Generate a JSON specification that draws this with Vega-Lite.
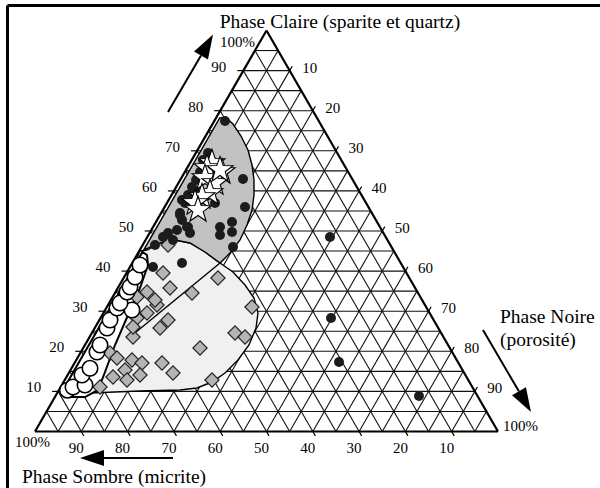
{
"$schema": "https://vega.github.io/schema/vega-lite/v6.json",
"width": 592, "height": 482,
"autosize": {"type": "none"},
"padding": {"left": 8, "top": 6, "right": 0, "bottom": 0},
"background": "white",
"config": {"view": {"stroke": null}},
"datasets": {
"grid": [
{"x":2.5,"y":5,"x2":97.5,"y2":5},{"x":5,"y":10,"x2":95,"y2":10},{"x":7.5,"y":15,"x2":92.5,"y2":15},{"x":10,"y":20,"x2":90,"y2":20},{"x":12.5,"y":25,"x2":87.5,"y2":25},{"x":15,"y":30,"x2":85,"y2":30},{"x":17.5,"y":35,"x2":82.5,"y2":35},{"x":20,"y":40,"x2":80,"y2":40},{"x":22.5,"y":45,"x2":77.5,"y2":45},{"x":25,"y":50,"x2":75,"y2":50},{"x":27.5,"y":55,"x2":72.5,"y2":55},{"x":30,"y":60,"x2":70,"y2":60},{"x":32.5,"y":65,"x2":67.5,"y2":65},{"x":35,"y":70,"x2":65,"y2":70},{"x":37.5,"y":75,"x2":62.5,"y2":75},{"x":40,"y":80,"x2":60,"y2":80},{"x":42.5,"y":85,"x2":57.5,"y2":85},{"x":45,"y":90,"x2":55,"y2":90},{"x":47.5,"y":95,"x2":52.5,"y2":95},
{"x":5,"y":0,"x2":2.5,"y2":5},{"x":10,"y":0,"x2":5,"y2":10},{"x":15,"y":0,"x2":7.5,"y2":15},{"x":20,"y":0,"x2":10,"y2":20},{"x":25,"y":0,"x2":12.5,"y2":25},{"x":30,"y":0,"x2":15,"y2":30},{"x":35,"y":0,"x2":17.5,"y2":35},{"x":40,"y":0,"x2":20,"y2":40},{"x":45,"y":0,"x2":22.5,"y2":45},{"x":50,"y":0,"x2":25,"y2":50},{"x":55,"y":0,"x2":27.5,"y2":55},{"x":60,"y":0,"x2":30,"y2":60},{"x":65,"y":0,"x2":32.5,"y2":65},{"x":70,"y":0,"x2":35,"y2":70},{"x":75,"y":0,"x2":37.5,"y2":75},{"x":80,"y":0,"x2":40,"y2":80},{"x":85,"y":0,"x2":42.5,"y2":85},{"x":90,"y":0,"x2":45,"y2":90},{"x":95,"y":0,"x2":47.5,"y2":95},
{"x":5,"y":0,"x2":52.5,"y2":95},{"x":10,"y":0,"x2":55,"y2":90},{"x":15,"y":0,"x2":57.5,"y2":85},{"x":20,"y":0,"x2":60,"y2":80},{"x":25,"y":0,"x2":62.5,"y2":75},{"x":30,"y":0,"x2":65,"y2":70},{"x":35,"y":0,"x2":67.5,"y2":65},{"x":40,"y":0,"x2":70,"y2":60},{"x":45,"y":0,"x2":72.5,"y2":55},{"x":50,"y":0,"x2":75,"y2":50},{"x":55,"y":0,"x2":77.5,"y2":45},{"x":60,"y":0,"x2":80,"y2":40},{"x":65,"y":0,"x2":82.5,"y2":35},{"x":70,"y":0,"x2":85,"y2":30},{"x":75,"y":0,"x2":87.5,"y2":25},{"x":80,"y":0,"x2":90,"y2":20},{"x":85,"y":0,"x2":92.5,"y2":15},{"x":90,"y":0,"x2":95,"y2":10},{"x":95,"y":0,"x2":97.5,"y2":5}
],
"outline": [
{"x":0,"y":0,"x2":100,"y2":0},{"x":0,"y":0,"x2":50,"y2":100},{"x":100,"y":0,"x2":50,"y2":100}
],
"frame": [
{"x":-5.94,"y":106.23,"x2":125,"y2":106.23},{"x":-5.94,"y":106.23,"x2":-5.94,"y2":-16}
],
"ticks": [
{"x":3.7,"y":10,"x2":5,"y2":10},{"x":8.7,"y":20,"x2":10,"y2":20},{"x":13.7,"y":30,"x2":15,"y2":30},{"x":18.7,"y":40,"x2":20,"y2":40},{"x":23.7,"y":50,"x2":25,"y2":50},{"x":28.7,"y":60,"x2":30,"y2":60},{"x":33.7,"y":70,"x2":35,"y2":70},{"x":38.7,"y":80,"x2":40,"y2":80},{"x":43.7,"y":90,"x2":45,"y2":90},
{"x":95,"y":10,"x2":95.55,"y2":11.1},{"x":90,"y":20,"x2":90.55,"y2":21.1},{"x":85,"y":30,"x2":85.55,"y2":31.1},{"x":80,"y":40,"x2":80.55,"y2":41.1},{"x":75,"y":50,"x2":75.55,"y2":51.1},{"x":70,"y":60,"x2":70.55,"y2":61.1},{"x":65,"y":70,"x2":65.55,"y2":71.1},{"x":60,"y":80,"x2":60.55,"y2":81.1},{"x":55,"y":90,"x2":55.55,"y2":91.1},
{"x":10,"y":0,"x2":10.55,"y2":-1.1},{"x":20,"y":0,"x2":20.55,"y2":-1.1},{"x":30,"y":0,"x2":30.55,"y2":-1.1},{"x":40,"y":0,"x2":40.55,"y2":-1.1},{"x":50,"y":0,"x2":50.55,"y2":-1.1},{"x":60,"y":0,"x2":60.55,"y2":-1.1},{"x":70,"y":0,"x2":70.55,"y2":-1.1},{"x":80,"y":0,"x2":80.55,"y2":-1.1},{"x":90,"y":0,"x2":90.55,"y2":-1.1}
],
"regions": [
{"r":"L","i":1,"x":39.96,"y":42.02},{"r":"L","i":2,"x":42.76,"y":39.78},{"r":"L","i":3,"x":45.36,"y":36.53},{"r":"L","i":4,"x":47.30,"y":33.29},{"r":"L","i":5,"x":48.16,"y":29.55},{"r":"L","i":6,"x":47.73,"y":25.81},{"r":"L","i":7,"x":46.22,"y":21.57},{"r":"L","i":8,"x":43.84,"y":17.83},{"r":"L","i":9,"x":41.04,"y":14.59},{"r":"L","i":10,"x":38.23,"y":12.34},{"r":"L","i":11,"x":34.99,"y":10.85},{"r":"L","i":12,"x":31.32,"y":10.35},{"r":"L","i":13,"x":22.68,"y":10.10},{"r":"L","i":14,"x":12.0,"y":9.6},{"r":"L","i":15,"x":22.6,"y":45.0},{"r":"L","i":16,"x":24.19,"y":45.26},{"r":"L","i":17,"x":27.00,"y":47.01},{"r":"L","i":18,"x":30.24,"y":47.76},{"r":"L","i":19,"x":33.48,"y":47.01},{"r":"L","i":20,"x":36.72,"y":44.76},
{"r":"G","i":1,"x":39.90,"y":78.20},{"r":"G","i":2,"x":41.25,"y":78.30},{"r":"G","i":3,"x":42.76,"y":76.68},{"r":"G","i":4,"x":44.49,"y":73.69},{"r":"G","i":5,"x":46.00,"y":70.20},{"r":"G","i":6,"x":46.87,"y":66.46},{"r":"G","i":7,"x":47.30,"y":62.72},{"r":"G","i":8,"x":47.30,"y":58.98},{"r":"G","i":9,"x":46.87,"y":55.24},{"r":"G","i":10,"x":45.79,"y":51.50},{"r":"G","i":11,"x":44.28,"y":47.76},{"r":"G","i":12,"x":42.12,"y":44.51},{"r":"G","i":13,"x":39.96,"y":42.02},{"r":"G","i":14,"x":36.72,"y":44.76},{"r":"G","i":15,"x":33.48,"y":47.01},{"r":"G","i":16,"x":30.24,"y":47.76},{"r":"G","i":17,"x":27.00,"y":47.01},{"r":"G","i":18,"x":23.5,"y":45.3},
{"r":"B","i":1,"x":5.8,"y":9.85},{"r":"B","i":2,"x":7.56,"y":8.60},{"r":"B","i":3,"x":10.80,"y":8.60},{"r":"B","i":4,"x":13.61,"y":10.35},{"r":"B","i":5,"x":15.12,"y":14.84},{"r":"B","i":6,"x":17.28,"y":21.57},{"r":"B","i":7,"x":20.09,"y":29.05},{"r":"B","i":8,"x":22.68,"y":35.79},{"r":"B","i":9,"x":24.41,"y":41.52},{"r":"B","i":10,"x":24.19,"y":44.01},{"r":"B","i":11,"x":23.2,"y":44.76}
],
"divider": [{"x":39.96,"y":42.02,"x2":20.52,"y2":23.57}],
"samples": [
{"g":"dot","x":41.04,"y":77.43},{"g":"dot","x":37.37,"y":69.45},{"g":"dot","x":36.29,"y":67.71},{"g":"dot","x":36.93,"y":66.46},{"g":"dot","x":35.64,"y":64.71},{"g":"dot","x":34.77,"y":62.72},{"g":"dot","x":33.91,"y":60.97},{"g":"dot","x":33.05,"y":58.98},{"g":"dot","x":32.40,"y":56.98},{"g":"dot","x":31.32,"y":54.49},{"g":"dot","x":31.75,"y":52.74},{"g":"dot","x":32.83,"y":50.99},{"g":"dot","x":30.67,"y":50.25},{"g":"dot","x":28.73,"y":49.50},{"g":"dot","x":29.81,"y":47.76},{"g":"dot","x":27.65,"y":48.50},{"g":"dot","x":25.92,"y":46.51},{"g":"dot","x":44.92,"y":62.97},{"g":"dot","x":45.36,"y":55.99},{"g":"dot","x":38.88,"y":56.98},{"g":"dot","x":39.96,"y":50.99},{"g":"dot","x":39.96,"y":49.00},{"g":"dot","x":42.55,"y":52.24},{"g":"dot","x":42.55,"y":49.75},{"g":"dot","x":42.76,"y":46.01},{"g":"dot","x":33.05,"y":50.99},{"g":"dot","x":33.48,"y":49.50},{"g":"dot","x":31.32,"y":53.99},{"g":"dot","x":31.75,"y":57.73},{"g":"dot","x":34.56,"y":59.73},{"g":"dot","x":25.49,"y":41.02},{"g":"dot","x":31.75,"y":42.02},{"g":"dot","x":63.71,"y":48.50},{"g":"dot","x":63.93,"y":28.30},{"g":"dot","x":65.66,"y":17.33},{"g":"dot","x":82.94,"y":8.85},
{"g":"dia","x":28.73,"y":46.51},{"g":"dia","x":27.65,"y":39.53},{"g":"dia","x":29.16,"y":35.79},{"g":"dia","x":26.35,"y":31.55},{"g":"dia","x":33.91,"y":34.54},{"g":"dia","x":39.52,"y":38.28},{"g":"dia","x":46.87,"y":31.05},{"g":"dia","x":28.73,"y":27.81},{"g":"dia","x":27.00,"y":25.81},{"g":"dia","x":21.17,"y":23.57},{"g":"dia","x":43.20,"y":24.56},{"g":"dia","x":45.36,"y":23.57},{"g":"dia","x":35.64,"y":20.82},{"g":"dia","x":22.03,"y":28.30},{"g":"dia","x":24.19,"y":29.55},{"g":"dia","x":16.20,"y":19.58},{"g":"dia","x":17.71,"y":18.33},{"g":"dia","x":20.95,"y":17.83},{"g":"dia","x":23.11,"y":17.08},{"g":"dia","x":27.43,"y":17.08},{"g":"dia","x":19.44,"y":15.34},{"g":"dia","x":22.68,"y":14.09},{"g":"dia","x":29.81,"y":14.59},{"g":"dia","x":38.23,"y":12.84},{"g":"dia","x":19.87,"y":12.84},{"g":"dia","x":16.85,"y":13.59},{"g":"dia","x":14.04,"y":11.10},{"g":"dia","x":22.03,"y":33.54},{"g":"dia","x":24.19,"y":34.79},{"g":"dia","x":21.17,"y":26.06},{"g":"dia","x":25.92,"y":32.79},
{"g":"cir","x":7.0,"y":10.3},{"g":"cir","x":8.21,"y":11.10},{"g":"cir","x":10.80,"y":11.60},{"g":"cir","x":10.15,"y":14.09},{"g":"cir","x":11.88,"y":15.76},{"g":"cir","x":13.39,"y":19.83},{"g":"cir","x":14.04,"y":21.57},{"g":"cir","x":15.55,"y":25.81},{"g":"cir","x":16.20,"y":27.81},{"g":"cir","x":17.71,"y":30.80},{"g":"cir","x":20.95,"y":30.30},{"g":"cir","x":18.36,"y":32.05},{"g":"cir","x":19.87,"y":34.79},{"g":"cir","x":20.52,"y":36.03},{"g":"cir","x":21.60,"y":38.53},{"g":"cir","x":22.68,"y":41.52},
{"g":"star","x":38.23,"y":66.96},{"g":"star","x":37.15,"y":65.71},{"g":"star","x":40.39,"y":64.71},{"g":"star","x":36.72,"y":63.22},{"g":"star","x":38.88,"y":61.97},{"g":"star","x":37.80,"y":59.48},{"g":"star","x":36.07,"y":58.48},{"g":"star","x":34.56,"y":56.98},{"g":"star","x":35.21,"y":55.24},{"g":"star","x":39.96,"y":65.21}
],
"labels": [
{"s":"L","t":"10","x":5,"y":10},{"s":"L","t":"20","x":10,"y":20},{"s":"L","t":"30","x":15,"y":30},{"s":"L","t":"40","x":20,"y":40},{"s":"L","t":"50","x":25,"y":50},{"s":"L","t":"60","x":30,"y":60},{"s":"L","t":"70","x":35,"y":70},{"s":"L","t":"80","x":40,"y":80},{"s":"L","t":"90","x":45,"y":90},
{"s":"R","t":"10","x":55,"y":90},{"s":"R","t":"20","x":60,"y":80},{"s":"R","t":"30","x":65,"y":70},{"s":"R","t":"40","x":70,"y":60},{"s":"R","t":"50","x":75,"y":50},{"s":"R","t":"60","x":80,"y":40},{"s":"R","t":"70","x":85,"y":30},{"s":"R","t":"80","x":90,"y":20},{"s":"R","t":"90","x":95,"y":10},
{"s":"B","t":"90","x":10,"y":0},{"s":"B","t":"80","x":20,"y":0},{"s":"B","t":"70","x":30,"y":0},{"s":"B","t":"60","x":40,"y":0},{"s":"B","t":"50","x":50,"y":0},{"s":"B","t":"40","x":60,"y":0},{"s":"B","t":"30","x":70,"y":0},{"s":"B","t":"20","x":80,"y":0},{"s":"B","t":"10","x":90,"y":0},
{"s":"T1","t":"100%","x":50,"y":100},{"s":"R1","t":"100%","x":100,"y":0},{"s":"B1","t":"100%","x":0,"y":0}
],
"arrows": [
{"x":28.73,"y":79.68,"x2":35.85,"y2":93.79},{"x":96.76,"y":25.31,"x2":104.51,"y2":10.02},{"x":29.81,"y":-6.61,"x2":14.9,"y2":-6.61}
],
"heads": [
{"x":37.15,"y":96.38,"a":30},{"x":105.83,"y":7.46,"a":150},{"x":12.31,"y":-6.61,"a":270}
],
"titles": [
{"s":"C","t":"Phase Claire (sparite et quartz)","x":65.87,"y":102.12},
{"s":"L","t":"Phase Noire","x":100.43,"y":28.55},
{"s":"L","t":"(porosité)","x":100.43,"y":22.82},
{"s":"L","t":"Phase Sombre (micrite)","x":-2.81,"y":-11.35}
]
},
"encoding": {
"x": {"field": "x", "type": "quantitative", "scale": {"domain": [-5.832, 122.03], "nice": false, "zero": false}, "axis": null},
"y": {"field": "y", "type": "quantitative", "scale": {"domain": [-14.09, 106.11], "nice": false, "zero": false}, "axis": null}
},
"layer": [
{"data": {"name": "titles"}, "transform": [{"filter": "datum.s === 'C'"}], "mark": {"type": "text", "font": "Liberation Serif", "fontSize": 19.5, "align": "center", "baseline": "middle", "fill": "#000"}, "encoding": {"text": {"field": "t", "type": "nominal"}}},
{"data": {"name": "titles"}, "transform": [{"filter": "datum.s === 'L'"}], "mark": {"type": "text", "font": "Liberation Serif", "fontSize": 19.5, "align": "left", "baseline": "middle", "fill": "#000"}, "encoding": {"text": {"field": "t", "type": "nominal"}}},
{"data": {"name": "frame"}, "mark": {"type": "rule", "stroke": "#000", "strokeWidth": 3}, "encoding": {"x2": {"field": "x2"}, "y2": {"field": "y2"}}},
{"data": {"name": "arrows"}, "mark": {"type": "rule", "stroke": "#000", "strokeWidth": 2}, "encoding": {"x2": {"field": "x2"}, "y2": {"field": "y2"}}},
{"data": {"name": "heads"}, "mark": {"type": "point", "shape": "M0,-1L0.67,1L-0.67,1Z", "size": 576, "filled": true, "fill": "#000", "opacity": 1}, "encoding": {"angle": {"field": "a", "type": "quantitative", "scale": null}}},
{"data": {"name": "labels"}, "transform": [{"filter": "datum.s === 'L'"}], "mark": {"type": "text", "font": "Liberation Serif", "fontSize": 15, "align": "right", "baseline": "middle", "dx": -17, "dy": -4, "fill": "#000"}, "encoding": {"text": {"field": "t", "type": "nominal"}}},
{"data": {"name": "labels"}, "transform": [{"filter": "datum.s === 'R'"}], "mark": {"type": "text", "font": "Liberation Serif", "fontSize": 15, "align": "left", "baseline": "middle", "dx": 12.5, "dy": -3, "fill": "#000"}, "encoding": {"text": {"field": "t", "type": "nominal"}}},
{"data": {"name": "labels"}, "transform": [{"filter": "datum.s === 'B'"}], "mark": {"type": "text", "font": "Liberation Serif", "fontSize": 15, "align": "center", "baseline": "middle", "dx": -5, "dy": 16.5, "fill": "#000"}, "encoding": {"text": {"field": "t", "type": "nominal"}}},
{"data": {"name": "labels"}, "transform": [{"filter": "datum.s === 'T1'"}], "mark": {"type": "text", "font": "Liberation Serif", "fontSize": 15, "align": "right", "baseline": "middle", "dx": -11.5, "dy": 11.5, "fill": "#000"}, "encoding": {"text": {"field": "t", "type": "nominal"}}},
{"data": {"name": "labels"}, "transform": [{"filter": "datum.s === 'R1'"}], "mark": {"type": "text", "font": "Liberation Serif", "fontSize": 15, "align": "left", "baseline": "middle", "dx": 5, "dy": -5.5, "fill": "#000"}, "encoding": {"text": {"field": "t", "type": "nominal"}}},
{"data": {"name": "labels"}, "transform": [{"filter": "datum.s === 'B1'"}], "mark": {"type": "text", "font": "Liberation Serif", "fontSize": 15, "align": "center", "baseline": "middle", "dx": -2.5, "dy": 10.5, "fill": "#000"}, "encoding": {"text": {"field": "t", "type": "nominal"}}},
{"data": {"name": "grid"}, "mark": {"type": "rule", "stroke": "#111", "strokeWidth": 1.1}, "encoding": {"x2": {"field": "x2"}, "y2": {"field": "y2"}}},
{"data": {"name": "regions"}, "transform": [{"filter": "datum.r === 'L'"}], "mark": {"type": "line", "interpolate": "linear-closed", "fill": "#f0f0f0", "stroke": "#000", "strokeWidth": 1.4}, "encoding": {"order": {"field": "i", "type": "quantitative"}}},
{"data": {"name": "regions"}, "transform": [{"filter": "datum.r === 'G'"}], "mark": {"type": "line", "interpolate": "linear-closed", "fill": "#c2c2c2", "stroke": "#000", "strokeWidth": 1.4}, "encoding": {"order": {"field": "i", "type": "quantitative"}}},
{"data": {"name": "divider"}, "mark": {"type": "rule", "stroke": "#000", "strokeWidth": 1.4}, "encoding": {"x2": {"field": "x2"}, "y2": {"field": "y2"}}},
{"data": {"name": "regions"}, "transform": [{"filter": "datum.r === 'B'"}], "mark": {"type": "line", "interpolate": "linear-closed", "fill": "#ffffff", "stroke": "#000", "strokeWidth": 2}, "encoding": {"order": {"field": "i", "type": "quantitative"}}},
{"data": {"name": "outline"}, "mark": {"type": "rule", "stroke": "#000", "strokeWidth": 2.2}, "encoding": {"x2": {"field": "x2"}, "y2": {"field": "y2"}}},
{"data": {"name": "ticks"}, "mark": {"type": "rule", "stroke": "#000", "strokeWidth": 1.2}, "encoding": {"x2": {"field": "x2"}, "y2": {"field": "y2"}}},
{"data": {"name": "samples"}, "transform": [{"filter": "datum.g === 'dia'"}], "mark": {"type": "point", "shape": "diamond", "size": 200, "filled": true, "fill": "#b4b4b4", "stroke": "#222", "strokeWidth": 1.2, "opacity": 1}},
{"data": {"name": "samples"}, "transform": [{"filter": "datum.g === 'dot'"}], "mark": {"type": "point", "shape": "circle", "size": 100, "filled": true, "fill": "#1c1c1c", "opacity": 1}},
{"data": {"name": "samples"}, "transform": [{"filter": "datum.g === 'cir'"}], "mark": {"type": "point", "shape": "circle", "size": 240, "filled": true, "fill": "#ffffff", "stroke": "#000", "strokeWidth": 1.6, "opacity": 1}},
{"data": {"name": "samples"}, "transform": [{"filter": "datum.g === 'star'"}], "mark": {"type": "point", "shape": "M0,-1L0.235,-0.324L0.951,-0.309L0.38,0.124L0.588,0.809L0,0.4L-0.588,0.809L-0.38,0.124L-0.951,-0.309L-0.235,-0.324Z", "size": 750, "filled": true, "fill": "#ffffff", "stroke": "#000", "strokeWidth": 1.1, "opacity": 1}}
]
}
